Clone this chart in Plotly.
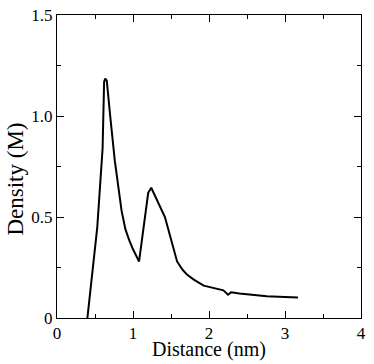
import plotly.graph_objects as go

distance = [0.40, 0.53, 0.60, 0.62, 0.635, 0.655, 0.70, 0.76, 0.85, 0.90, 0.95, 1.00, 1.08,
            1.20, 1.24, 1.42, 1.58, 1.65, 1.71, 1.80, 1.93, 2.05, 2.19, 2.25, 2.29, 2.40,
            2.54, 2.76, 3.00, 3.17]
density = [0.0, 0.45, 0.84, 1.17, 1.185, 1.175, 1.0, 0.78, 0.53, 0.44, 0.385, 0.34, 0.28,
           0.62, 0.645, 0.50, 0.28, 0.24, 0.215, 0.19, 0.16, 0.148, 0.137, 0.115, 0.127, 0.121,
           0.115, 0.108, 0.104, 0.102]

x_ticks = [0, 1, 2, 3, 4]
x_tick_text = ["0", "1", "2", "3", "4"]
y_ticks = [0, 0.5, 1.0, 1.5]
y_tick_text = ["0", "0.5", "1.0", "1.5"]

FONT = "Liberation Serif"

fig = go.Figure()
fig.add_trace(go.Scatter(x=distance, y=density, mode="lines",
                         line=dict(color="black", width=2), showlegend=False))

axis_common = dict(
    showgrid=False, zeroline=False, showline=True, linecolor="black", linewidth=1,
    mirror="allticks", ticks="inside", ticklen=7, tickwidth=1, tickcolor="black",
    tickfont=dict(family=FONT, size=17, color="black"), automargin=False,
    ticklabeloverflow="allow",
)

fig.update_xaxes(range=[0, 4], tickvals=x_ticks, ticktext=x_tick_text,
                 minor=dict(ticks="inside", ticklen=4, dtick=0.5, tick0=0, tickcolor="black"),
                 **axis_common)
fig.update_yaxes(range=[0, 1.5], tickvals=y_ticks, ticktext=y_tick_text,
                 minor=dict(ticks="inside", ticklen=4, dtick=0.25, tick0=0, tickcolor="black"),
                 **axis_common)

fig.add_annotation(text="Distance (nm)", xref="paper", yref="paper", x=0.5, y=-0.104,
                   xanchor="center", yanchor="middle", showarrow=False,
                   font=dict(family=FONT, size=20, color="black"))
fig.add_annotation(text="Density (M)", xref="paper", yref="paper", x=-0.135, y=0.46,
                   xanchor="center", yanchor="middle", showarrow=False, textangle=-90,
                   font=dict(family=FONT, size=23, color="black"))

fig.update_layout(
    width=374, height=364,
    margin=dict(l=57, r=13, t=15, b=46, autoexpand=False),
    paper_bgcolor="white", plot_bgcolor="white",
    font=dict(family=FONT, color="black"),
)

# remove the browser's default 8px body margin so the figure sits at the page origin
fig.write_html("out.html", config={"displayModeBar": False},
               post_script="document.body.style.margin='0px';")
